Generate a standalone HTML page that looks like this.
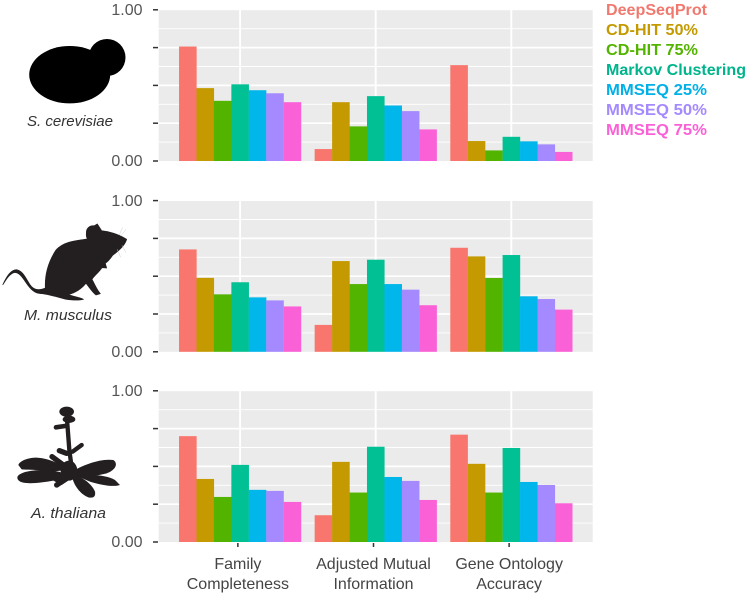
<!DOCTYPE html>
<html lang="en">
<head>
<meta charset="utf-8">
<title>Clustering metrics by organism</title>
<style>
html,body{margin:0;padding:0;background:#fff;width:748px;height:596px;overflow:hidden}
svg{display:block;font-family:"Liberation Sans",sans-serif}
</style>
</head>
<body>
<svg id="chart" width="748" height="596" viewBox="0 0 748 596" xmlns="http://www.w3.org/2000/svg">
  <g id="panels"></g>

  <g fill="#000">
    <ellipse cx="69.7" cy="74.7" rx="40.5" ry="28.7"/>
    <circle cx="107" cy="57.5" r="18.5"/>
  </g>
  <g transform="translate(0 200) scale(0.3333)">
    <path fill="#231f20" stroke="#231f20" stroke-width="2" d="M8 255C18 232 32 208 50 209C68 212 76 232 90 254C102 272 118 272 136 264C134 225 145 185 168 150C190 125 225 122 262 117C254 102 262 82 278 80L292 72L305 92C325 94 355 102 380 118C376 134 360 150 338 166C330 178 322 186 316 190L320 204L306 203C296 218 284 226 276 238C284 252 290 268 301 281L288 285C276 276 268 262 258 250C244 268 226 278 206 284C222 290 240 292 250 298C236 302 214 300 198 298C176 292 150 284 126 281C104 282 92 268 78 248C66 230 56 216 42 218C28 222 18 240 8 255Z"/>
    <circle cx="279" cy="97" r="21" fill="#231f20"/>
    <path fill="none" stroke="#ccc" stroke-width="1.5" d="M358 105L368 82M362 108L378 88M366 136L378 158M352 148L362 172"/>
  </g>
  <g transform="translate(0 390) scale(0.3333)" fill="#231f20" stroke="#231f20" stroke-linecap="round">
    <path fill="none" stroke-width="13" d="M200 75L208 180L216 240"/>
    <ellipse cx="200" cy="65" rx="22" ry="15" stroke="none"/>
    <ellipse cx="207" cy="88" rx="19" ry="11" stroke="none"/>
    <path fill="none" stroke-width="14" d="M168 112L195 108"/>
    <path fill="none" stroke-width="13" d="M218 185L245 165"/>
    <path fill="none" stroke-width="16" d="M178 182L200 190"/>
    <path fill="none" stroke-width="16" d="M156 200L190 225"/>
    <path fill="none" stroke-width="16" d="M170 285L200 265"/>
    <path stroke="none" d="M55 225C60 212 85 203 110 203C150 205 185 225 205 240L150 245C120 238 80 240 65 238Z"/>
    <path stroke="none" d="M52 262C55 248 90 240 130 240C170 240 200 250 215 265L185 285L160 272C130 278 90 282 70 278C58 275 52 270 52 262Z"/>
    <path stroke="none" d="M215 245C250 225 300 205 340 210C355 220 348 240 320 250C290 258 250 262 215 262Z"/>
    <path stroke="none" d="M230 258C270 252 320 255 345 270L360 285C340 292 300 285 270 275Z"/>
    <path stroke="none" d="M215 255C240 255 275 280 285 305C288 322 278 325 265 322C240 312 220 285 215 255Z"/>
    <ellipse cx="207" cy="242" rx="25" ry="30" stroke="none"/>
  </g>

  <text x="27" y="126" font-size="15" font-style="italic" fill="#333" textLength="86" lengthAdjust="spacingAndGlyphs">S. cerevisiae</text>
  <text x="24" y="320" font-size="15" font-style="italic" fill="#333" textLength="88" lengthAdjust="spacingAndGlyphs">M. musculus</text>
  <text x="31" y="518" font-size="15" font-style="italic" fill="#333" textLength="75" lengthAdjust="spacingAndGlyphs">A. thaliana</text>

  <g font-size="16" font-weight="bold">
    <text x="606" y="15" fill="#F0796F" textLength="101" lengthAdjust="spacingAndGlyphs">DeepSeqProt</text>
    <text x="606" y="35" fill="#C49A00" textLength="92" lengthAdjust="spacingAndGlyphs">CD-HIT 50%</text>
    <text x="606" y="55" fill="#53B400" textLength="92" lengthAdjust="spacingAndGlyphs">CD-HIT 75%</text>
    <text x="606" y="75" fill="#00B48C" textLength="140" lengthAdjust="spacingAndGlyphs">Markov Clustering</text>
    <text x="606" y="95" fill="#00B0E6" textLength="101" lengthAdjust="spacingAndGlyphs">MMSEQ 25%</text>
    <text x="606" y="115" fill="#A58AFF" textLength="101" lengthAdjust="spacingAndGlyphs">MMSEQ 50%</text>
    <text x="606" y="135" fill="#FB61D7" textLength="101" lengthAdjust="spacingAndGlyphs">MMSEQ 75%</text>
  </g>
</svg>
<script>
const categoryLines = [["Family", "Completeness"], ["Adjusted Mutual", "Information"], ["Gene Ontology", "Accuracy"]];
const seriesNames = ["deepseqprot", "cd-hit-50", "cd-hit-75", "markov-clustering", "mmseq-25", "mmseq-50", "mmseq-75"];
const seriesColors = ["#F8766D", "#C49A00", "#53B400", "#00C094", "#00B6EB", "#A58AFF", "#FB61D7"];
const yTickValues = [0, 0.25, 0.5, 0.75, 1];
const yTickLabels = ["0.00", "", "", "", "1.00"];
const yMinorValues = [0.125, 0.375, 0.625, 0.875];

const scerevisiaeFamily = [0.757, 0.482, 0.398, 0.507, 0.468, 0.448, 0.389];
const scerevisiaeAmi = [0.079, 0.389, 0.229, 0.429, 0.367, 0.33, 0.209];
const scerevisiaeGo = [0.634, 0.132, 0.07, 0.16, 0.13, 0.11, 0.06];
const mmusculusFamily = [0.677, 0.489, 0.38, 0.46, 0.36, 0.34, 0.3];
const mmusculusAmi = [0.178, 0.6, 0.448, 0.609, 0.448, 0.411, 0.308];
const mmusculusGo = [0.688, 0.631, 0.488, 0.64, 0.367, 0.349, 0.279];
const athalianaFamily = [0.7, 0.417, 0.298, 0.51, 0.345, 0.338, 0.265];
const athalianaAmi = [0.177, 0.53, 0.327, 0.63, 0.43, 0.404, 0.278];
const athalianaGo = [0.71, 0.517, 0.327, 0.622, 0.397, 0.377, 0.256];

const scerevisiaeValues = [scerevisiaeFamily, scerevisiaeAmi, scerevisiaeGo];
const mmusculusValues = [mmusculusFamily, mmusculusAmi, mmusculusGo];
const athalianaValues = [athalianaFamily, athalianaAmi, athalianaGo];
const organismNames = ["s-cerevisiae", "m-musculus", "a-thaliana"];
const organismValues = [scerevisiaeValues, mmusculusValues, athalianaValues];

const SVGNS = "http://www.w3.org/2000/svg";
const root = document.getElementById("panels");
const plotLeft = 158.7;
const plotRight = 592.7;
const panelZeros = [161, 351.8, 542];
const panelHeight = 151.2;
const catStep = (plotRight - plotLeft) / 3.2;
const groupWidth = catStep * 0.9;

function xCenter(c) { return plotLeft + catStep * (c + 0.6); }
function xBar(c, s) { return xCenter(c) - groupWidth / 2 + s * groupWidth / seriesNames.length; }
function yScale(p, v) { return panelZeros[p] - v * panelHeight; }

function make(parent, tag, props) {
  const el = document.createElementNS(SVGNS, tag);
  for (const k in props) el.setAttribute(k, props[k]);
  parent.appendChild(el);
  return el;
}

organismValues.forEach(function (groups, p) {
  const panel = make(root, "g", {});
  
  

  const bg = make(panel, "rect", { x: plotLeft, y: yScale(p, 1) + 0.4, width: plotRight - plotLeft, height: panelHeight - 0.4, fill: "#ebebeb" });
  
  

  yMinorValues.forEach(function (v) {
    const line = make(panel, "line", { x1: plotLeft, x2: plotRight, y1: yScale(p, v), y2: yScale(p, v), stroke: "#fff", "stroke-width": 0.9 });
    
    
  });
  yTickValues.slice(1, 4).forEach(function (v) {
    const line = make(panel, "line", { x1: plotLeft, x2: plotRight, y1: yScale(p, v), y2: yScale(p, v), stroke: "#fff", "stroke-width": 1.7 });
    
    
  });
  categoryLines.forEach(function (_, c) {
    const line = make(panel, "line", { x1: xCenter(c), x2: xCenter(c), y1: yScale(p, 1), y2: panelZeros[p], stroke: "#fff", "stroke-width": 1.9 });
    
    
  });

  groups.forEach(function (values, c) {
    values.forEach(function (v, s) {
      const bar = make(panel, "rect", {
        x: xBar(c, s),
        y: yScale(p, v),
        width: groupWidth / seriesNames.length + 0.15,
        height: v * panelHeight,
        fill: seriesColors[s]
      });
      
      
    });
  });

  yTickValues.forEach(function (v, i) {
    const tick = make(panel, "line", { x1: 153, x2: 158, y1: yScale(p, v), y2: yScale(p, v), stroke: "#333", "stroke-width": 1.5 });
    
    
    if (yTickLabels[i]) {
      const label = make(panel, "text", { x: 142.5, y: yScale(p, v) + 5.2, "text-anchor": "end", "font-size": 16, fill: "#555" });
      label.textContent = yTickLabels[i];
      
      
    }
  });
});

categoryLines.forEach(function (lines, c) {
  const cx = xCenter(c) - 2.2;
  const tick = make(root, "line", { x1: cx, x2: cx, y1: 543, y2: 547, stroke: "#333", "stroke-width": 1.5 });
  
  
  lines.forEach(function (str, i) {
    const label = make(root, "text", { x: cx, y: 569 + i * 20, "text-anchor": "middle", "font-size": 16, fill: "#444" });
    label.textContent = str;
    
    
  });
});
</script>
</body>
</html>
